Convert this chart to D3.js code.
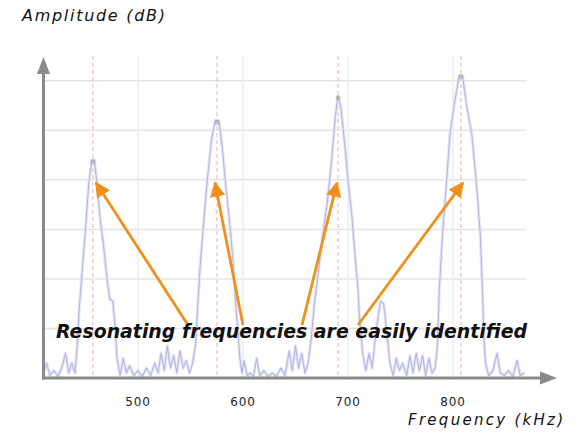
<!DOCTYPE html>
<html lang="en">
    <head>
        <meta charset="utf-8">
        <title>resonance_spectrum</title>
        <script type="text/javascript" src="https://cdn.jsdelivr.net/npm/d3@7"></script>
        <style>
            body { margin: 0; background: #fff; }
        </style>
    </head>

    <body>
        <script type="text/javascript">
        var w = 578;
        var h = 436;

        // spectrum: frequency (kHz) and amplitude (dB, arbitrary zero)
        var freqKHz = [410, 413, 416, 420, 424, 428, 431, 434, 437, 440, 442, 444, 447, 450, 453, 456, 458.5, 461, 464, 467,
                       470, 473, 476, 478, 480, 483, 486, 489, 492, 496, 500, 504, 508, 512, 516, 519, 522, 525, 528, 531,
                       534, 537, 540, 543, 546, 549, 552, 555, 557, 559, 562, 566, 570, 573.5, 577, 580, 584, 588, 591, 593,
                       595, 597, 599, 601, 604, 607, 610, 613, 616, 620, 624, 628, 632, 636, 640, 644, 647, 650, 653, 656,
                       659, 662, 665, 668, 671, 676, 680, 684, 688, 690.5, 693, 697, 700, 704, 707, 709.5, 711, 714, 717, 720,
                       723, 727, 731, 734, 737, 740, 743, 746, 749, 752, 756, 759, 762, 765, 768, 771, 774, 777, 780, 783,
                       785, 787, 790, 794, 797, 801, 806, 809, 813, 818, 822, 826, 828, 829.5, 831, 834, 838, 842, 845, 849,
                       853, 857, 861, 864, 868];
        var ampDb   = [1, 3, 0.5, 1.5, 0.3, 2.5, 5, 1, 3, 1, 6, 14, 22, 30, 39, 44, 44, 39, 32, 27,
                       21, 16, 15.5, 11, 4, 0.5, 4, 1, 2.5, 0.5, 1.5, 0.3, 2, 0.5, 3, 1, 5, 1.5, 6.5, 2,
                       4.5, 1, 5.5, 2, 3.5, 1, 3, 7, 15, 22, 30, 40, 48, 52, 52, 47, 38, 30, 22, 15,
                       10, 4, 1, 3.5, 0.5, 1, 0.3, 4, 0.5, 1.5, 0.3, 1, 0.3, 2, 0.5, 5.5, 1.5, 6.5, 2, 5,
                       1, 3, 8, 15, 20, 29, 35, 43, 53, 57, 55, 47, 40, 32, 24, 18, 12, 5, 1.5, 5,
                       2, 10, 15.5, 15, 9, 3, 0.5, 4, 1.5, 3, 0.5, 4.5, 1, 5, 1.5, 4.5, 0.5, 4, 1, 2,
                       6, 18, 29, 40, 49, 55, 61, 61, 55, 49, 40, 29, 18, 8, 3, 0.5, 1.5, 5, 1, 0.5,
                       1.5, 0.3, 3.5, 0.5, 1];

        // resonance peaks (kHz) and their amplitudes
        var peakFreqs = [457, 575.2, 690.5, 807.6];
        var peakAmps  = [44, 52, 57, 61.2];

        // annotation arrows: start (near the caption) and tip (on each peak), data units
        var arrowFromF = [547.6, 600, 656.2, 709.5];
        var arrowToF   = [460, 573.3, 689.5, 809.5];
        var arrowFromDb = 10.7;
        var arrowToDb   = 39.4;

        var xTicks = [500, 600, 700, 800];
        var yGrid  = [10, 20, 30, 40, 50, 60];

        var data = freqKHz.map(function(f, i){ return {f: f, a: ampDb[i]}; });

        var xScale = d3.scaleLinear().domain([410, 870]).range([43.5, 526.5]);
        var yScale = d3.scaleLinear().domain([0, 65]).range([378, 56]);

        var svg = d3.select("body")
                    .append("svg")
                    .attr("width", w)
                    .attr("height", h);

        var defs = svg.append("defs");
        defs.append("marker")
            .attr("id", "orangeHead")
            .attr("viewBox", "0 0 10 10")
            .attr("refX", 9).attr("refY", 5)
            .attr("markerWidth", 5.5).attr("markerHeight", 5.5)
            .attr("markerUnits", "strokeWidth")
            .attr("orient", "auto")
            .append("path")
            .attr("d", "M0,0 L10,5 L0,10 Z")
            .attr("fill", "#f0901a");

        // light grid
        svg.append("g")
            .selectAll("line")
            .data(yGrid)
            .enter()
            .append("line")
            .attr("x1", xScale(410)).attr("x2", xScale(870))
            .attr("y1", function(d){ return yScale(d); })
            .attr("y2", function(d){ return yScale(d); })
            .attr("stroke", "#e3e3e3")
            .attr("stroke-width", 1.5);

        svg.append("g")
            .selectAll("line")
            .data(xTicks)
            .enter()
            .append("line")
            .attr("x1", function(d){ return xScale(d); })
            .attr("x2", function(d){ return xScale(d); })
            .attr("y1", yScale(65)).attr("y2", yScale(0))
            .attr("stroke", "#ececec")
            .attr("stroke-width", 1.5);

        // red dashed markers at the resonances
        svg.append("g")
            .selectAll("line")
            .data(peakFreqs)
            .enter()
            .append("line")
            .attr("x1", function(d){ return xScale(d); })
            .attr("x2", function(d){ return xScale(d); })
            .attr("y1", yScale(65)).attr("y2", yScale(0))
            .attr("stroke", "#ebb0b0")
            .attr("stroke-width", 1)
            .attr("stroke-dasharray", "4,3");

        // spectrum trace (blurred look: wide pale stroke + thin core)
        var line = d3.line()
                    .x(function(d){ return xScale(d.f); })
                    .y(function(d){ return yScale(d.a); });

        svg.append("path")
            .datum(data)
            .attr("d", line)
            .attr("fill", "none")
            .attr("stroke", "#e6e6f7")
            .attr("stroke-width", 3.2)
            .attr("stroke-linejoin", "round");

        svg.append("path")
            .datum(data)
            .attr("d", line)
            .attr("fill", "none")
            .attr("stroke", "#b6b6e4")
            .attr("stroke-width", 1.1)
            .attr("stroke-linejoin", "round");

        // small grey smudge on each peak top
        svg.append("g")
            .selectAll("circle")
            .data(peakFreqs)
            .enter()
            .append("circle")
            .attr("cx", function(d){ return xScale(d); })
            .attr("cy", function(d, i){ return yScale(peakAmps[i]) + 2; })
            .attr("r", 2.5)
            .attr("fill", "#8c9a8c")
            .attr("opacity", 0.45);

        // axes drawn as arrows
        var axisCol = "#8a8a8a";
        svg.append("line")
            .attr("x1", 43.5).attr("y1", yScale(0) + 1.5)
            .attr("x2", 43.5).attr("y2", 72)
            .attr("stroke", axisCol).attr("stroke-width", 3);
        svg.append("path")
            .attr("d", "M43.5,57 L50,74 L37,74 Z")
            .attr("fill", axisCol);

        svg.append("line")
            .attr("x1", 42).attr("y1", yScale(0))
            .attr("x2", 542).attr("y2", yScale(0))
            .attr("stroke", axisCol).attr("stroke-width", 3);
        svg.append("path")
            .attr("d", "M557,378 L540,371.5 L540,384.5 Z")
            .attr("fill", axisCol);

        // tick labels
        svg.append("g")
            .selectAll("text")
            .data(xTicks)
            .enter()
            .append("text")
            .text(function(d){ return d; })
            .attr("x", function(d){ return xScale(d); })
            .attr("y", 406)
            .attr("text-anchor", "middle")
            .attr("font-family", "DejaVu Sans, sans-serif")
            .attr("font-size", "12px")
            .attr("letter-spacing", "0.8px")
            .attr("fill", "#222");

        // orange arrows
        svg.append("g")
            .selectAll("line")
            .data(arrowFromF)
            .enter()
            .append("line")
            .attr("x1", function(d){ return xScale(d); })
            .attr("y1", yScale(arrowFromDb))
            .attr("x2", function(d, i){ return xScale(arrowToF[i]); })
            .attr("y2", yScale(arrowToDb))
            .attr("stroke", "#f0901a")
            .attr("stroke-width", 2.8)
            .attr("marker-end", "url(#orangeHead)");

        // caption
        svg.append("text")
            .text("Resonating frequencies are easily identified")
            .attr("x", 56).attr("y", 338)
            .attr("textLength", 471)
            .attr("lengthAdjust", "spacingAndGlyphs")
            .attr("font-family", "DejaVu Sans, sans-serif")
            .attr("font-size", "19px")
            .attr("font-weight", "bold")
            .attr("font-style", "italic")
            .attr("fill", "#111");

        // axis titles
        svg.append("text")
            .text("Amplitude (dB)")
            .attr("x", 22).attr("y", 21)
            .attr("textLength", 143)
            .attr("lengthAdjust", "spacing")
            .attr("font-family", "DejaVu Sans, sans-serif")
            .attr("font-size", "16px")
            .attr("font-style", "italic")
            .attr("fill", "#111");

        svg.append("text")
            .text("Frequency (kHz)")
            .attr("x", 408).attr("y", 425)
            .attr("textLength", 155)
            .attr("lengthAdjust", "spacing")
            .attr("font-family", "DejaVu Sans, sans-serif")
            .attr("font-size", "15px")
            .attr("font-style", "italic")
            .attr("fill", "#111");
        </script>
    </body>
</html>
